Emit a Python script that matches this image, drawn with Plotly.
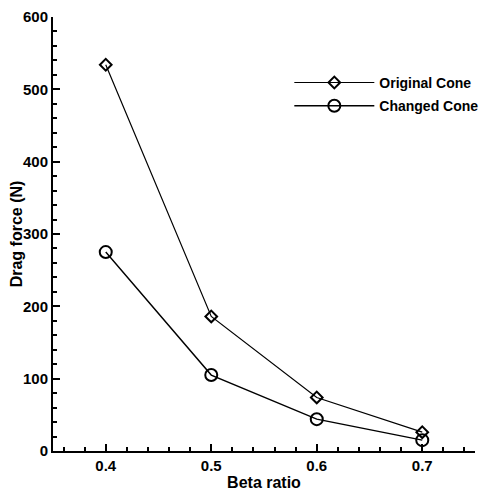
import plotly.graph_objects as go

beta = [0.4, 0.5, 0.6, 0.7]
original_cone = [534, 186, 74, 26]
changed_cone = [275, 105, 44, 15]

font_family = "Liberation Sans, Arial, sans-serif"

fig = go.Figure()
fig.add_trace(go.Scatter(
    x=beta, y=original_cone, name="Original Cone", mode="lines+markers", legendgroup="a",
    line=dict(color="black", width=1.2),
    marker=dict(symbol="diamond-open", size=9, color="black", line=dict(width=2, color="black")),
))
fig.add_trace(go.Scatter(
    x=beta, y=changed_cone, name="Changed Cone", mode="lines+markers", legendgroup="b",
    line=dict(color="black", width=1.4),
    marker=dict(symbol="circle-open", size=12, color="black", line=dict(width=2, color="black")),
))

axis_common = dict(
    showgrid=False, zeroline=False, showline=True, linecolor="black", linewidth=2,
    ticks="inside", ticklen=7, tickwidth=2, tickcolor="black", automargin=False,
    ticklabeloverflow="allow",
    tickfont=dict(family=font_family, size=15, color="black", weight="bold"),
)

fig.update_xaxes(
    range=[0.35, 0.75], tickvals=[0.4, 0.5, 0.6, 0.7], ticktext=["0.4", "0.5", "0.6", "0.7"],
    minor=dict(dtick=0.02, tick0=0.4, ticks="inside", ticklen=4, tickwidth=1.5, tickcolor="black"),
    title=dict(text="Beta ratio", font=dict(family=font_family, size=16, color="black", weight="bold"), standoff=4),
    **axis_common,
)
fig.update_yaxes(
    range=[0, 600], dtick=100,
    minor=dict(dtick=20, ticks="inside", ticklen=4, tickwidth=1.5, tickcolor="black"),
    title=dict(text="Drag force (N)", font=dict(family=font_family, size=16, color="black", weight="bold"), standoff=2),
    **axis_common,
)

fig.update_layout(
    width=487, height=484,
    margin=dict(l=45, r=20, t=9, b=41),
    plot_bgcolor="white", paper_bgcolor="white",
    showlegend=True,
    legend=dict(x=0.56, y=0.885, xanchor="left", yanchor="top", bgcolor="rgba(0,0,0,0)",
                font=dict(family=font_family, size=14, color="black", weight="bold"),
                itemwidth=80, tracegroupgap=2),
)

fig.write_html("out.html")
